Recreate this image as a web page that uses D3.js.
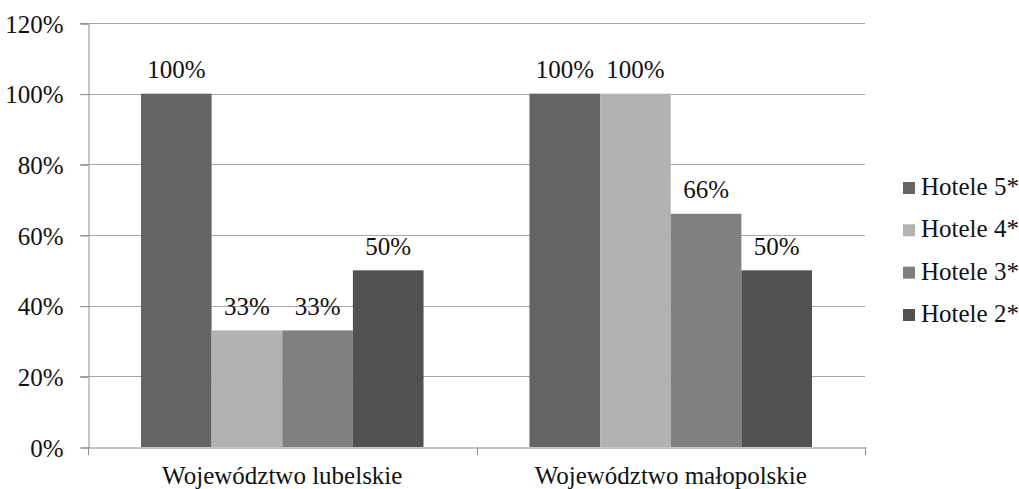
<!DOCTYPE html>
<html>
<head>
<meta charset="utf-8">
<script src="https://cdn.jsdelivr.net/npm/d3@7/dist/d3.min.js"></script>
<style>
  html, body { margin: 0; padding: 0; background: #fff; }
  svg { display: block; }
  svg text { font-family: "Liberation Serif", "Times New Roman", serif; }
</style>
</head>
<body>
<svg id="chart" width="1019" height="489"></svg>
<script>
// Share of hotels per category, by voivodeship
const categories = ["Województwo lubelskie", "Województwo małopolskie"];
const seriesNames = ["Hotele 5*", "Hotele 4*", "Hotele 3*", "Hotele 2*"];
const seriesColors = ["#646464", "#b2b2b2", "#808080", "#515151"];
const hotele5 = [100, 100];
const hotele4 = [33, 100];
const hotele3 = [33, 66];
const hotele2 = [50, 50];
const seriesValues = [hotele5, hotele4, hotele3, hotele2];
const yTicks = [0, 20, 40, 60, 80, 100, 120];

const FONT = '"Liberation Serif", "Times New Roman", serif';
const FS = 25;
const TEXT_COLOR = "#111";

const svg = d3.select("#chart");
const plot = { left: 88, right: 865, top: 23, bottom: 447 };

const x0 = d3.scaleBand()
  .domain(categories)
  .range([plot.left, plot.right])
  .paddingInner(0)
  .paddingOuter(0);

// bars fill the middle of each category band (gap width 150%)
const barCount = seriesNames.length;
const bandW = x0.bandwidth();
const barW = bandW / (barCount + 1.5);
const x1 = d3.scaleBand()
  .domain(d3.range(barCount))
  .range([0.75 * barW, 0.75 * barW + barCount * barW])
  .padding(0);

const y = d3.scaleLinear().domain([0, 120]).range([plot.bottom, plot.top]);

// gridlines
svg.append("g")
  .selectAll("line")
  .data(yTicks.filter(t => t > 0))
  .join("line")
  .attr("x1", plot.left - 8)
  .attr("x2", plot.right)
  .attr("y1", d => Math.round(y(d)) + 0.5)
  .attr("y2", d => Math.round(y(d)) + 0.5)
  .attr("stroke", "#a6a6a6")
  .attr("stroke-width", 1);

// y axis
const yAxis = d3.axisLeft(y)
  .tickValues(yTicks)
  .tickFormat(d => d + "%")
  .tickSize(8)
  .tickPadding(17);
const gy = svg.append("g")
  .attr("transform", `translate(${plot.left + 0.5},0.5)`)
  .call(yAxis);
gy.attr("font-family", null);
gy.select(".domain").attr("stroke", "#8c8c8c");
gy.selectAll(".tick line").attr("stroke", "#8c8c8c");
gy.selectAll(".tick text")
  .style("font-family", FONT)
  .style("font-size", FS + "px")
  .attr("fill", TEXT_COLOR)
  .attr("dy", "0.34em");

// bars
const groups = svg.append("g")
  .selectAll("g")
  .data(categories)
  .join("g")
  .attr("transform", d => `translate(${x0(d)},0)`);

groups.selectAll("rect")
  .data((c, ci) => seriesValues.map((vals, si) => ({ si, v: vals[ci] })))
  .join("rect")
  .attr("x", d => x1(d.si))
  .attr("width", x1.bandwidth())
  .attr("y", d => y(d.v))
  .attr("height", d => y(0) - y(d.v))
  .attr("fill", d => seriesColors[d.si]);

groups.selectAll("text.val")
  .data((c, ci) => seriesValues.map((vals, si) => ({ si, v: vals[ci] })))
  .join("text")
  .attr("class", "val")
  .attr("x", d => x1(d.si) + x1.bandwidth() / 2)
  .attr("y", d => y(d.v) - 15.5)
  .attr("text-anchor", "middle")
  .style("font-family", FONT)
  .style("font-size", FS + "px")
  .attr("fill", TEXT_COLOR)
  .text(d => d.v + "%");

// x axis
const xAxis = d3.axisBottom(x0).tickSize(0).tickPadding(0);
const gx = svg.append("g")
  .attr("transform", `translate(0,${plot.bottom + 0.5})`)
  .call(xAxis);
gx.attr("font-family", null);
gx.select(".domain").attr("stroke", "#8c8c8c");
gx.selectAll(".tick text")
  .attr("dy", null)
  .attr("y", 36)
  .style("font-family", FONT)
  .style("font-size", FS + "px")
  .attr("fill", TEXT_COLOR);

// category separators below the axis
svg.append("g")
  .selectAll("line")
  .data([plot.left, x0(categories[1]), plot.right])
  .join("line")
  .attr("x1", d => Math.round(d) + 0.5)
  .attr("x2", d => Math.round(d) + 0.5)
  .attr("y1", plot.bottom)
  .attr("y2", plot.bottom + 8)
  .attr("stroke", "#8c8c8c");

// legend
const legendY = d3.scalePoint()
  .domain(seriesNames)
  .range([195, 322]);
const item = svg.append("g")
  .selectAll("g")
  .data(seriesNames)
  .join("g")
  .attr("transform", d => `translate(903,${legendY(d)})`);
item.append("rect")
  .attr("x", 0)
  .attr("y", -13)
  .attr("width", 12)
  .attr("height", 12)
  .attr("fill", (d, i) => seriesColors[i]);
item.append("text")
  .attr("x", 18)
  .attr("y", 0)
  .style("font-family", FONT)
  .style("font-size", FS + "px")
  .attr("fill", TEXT_COLOR)
  .text(d => d);
</script>
</body>
</html>
